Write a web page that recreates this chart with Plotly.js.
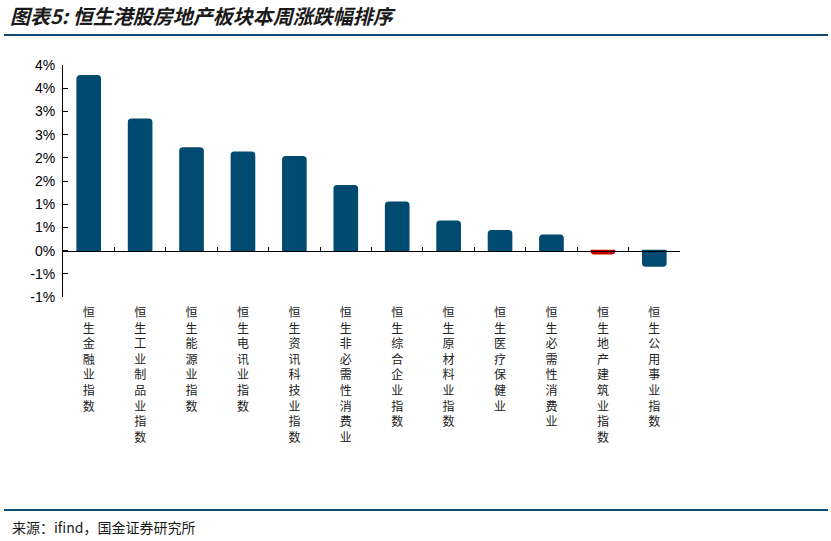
<!DOCTYPE html>
<html>
<head>
<meta charset="utf-8">
<script src="https://cdn.plot.ly/plotly-3.0.1.min.js"></script>
<style>
  html, body { margin: 0; padding: 0; background: #ffffff; }
  #chart { width: 831px; height: 541px; }
</style>
</head>
<body>
<div id="chart"></div>
<script>
// ---- data ----
const titleText = '图表5: 恒生港股房地产板块本周涨跌幅排序';
const sourceText = '来源：ifind，国金证券研究所';
const categories = [
  '恒生金融业指数', '恒生工业制品业指数', '恒生能源业指数', '恒生电讯业指数',
  '恒生资讯科技业指数', '恒生非必需性消费业', '恒生综合企业指数', '恒生原材料业指数',
  '恒生医疗保健业', '恒生必需性消费业', '恒生地产建筑业指数', '恒生公用事业指数'
];
const values = [3.77, 2.83, 2.21, 2.12, 2.02, 1.40, 1.04, 0.63, 0.43, 0.33, -0.07, -0.33];
const highlightCategory = '恒生地产建筑业指数';
const yTickVals = [-1, -0.5, 0, 0.5, 1, 1.5, 2, 2.5, 3, 3.5, 4];
const yTickText = ['-1%', '-1%', '0%', '1%', '1%', '2%', '2%', '3%', '3%', '4%', '4%'];

// ---- styles ----
const BLUE = '#004a70';
const RED = '#c00000';
const barColors = categories.map(c => c === highlightCategory ? RED : BLUE);
const verticalLabels = categories.map(c => c.split('').join('<br>'));

const trace = {
  type: 'bar',
  x: categories,
  y: values,
  width: 0.45,
  marker: {
    color: barColors,
    cornerradius: 3,
    line: { color: barColors, width: 1.5 }
  },
  hoverinfo: 'x+y'
};

const W = 831, H = 541;
const L = 63, R = 680, T = 65, B = 297;
const px = x => (x - L) / (R - L);
const py = y => (B - y) / (B - T);

const layout = {
  width: W, height: H,
  margin: { l: L, r: W - R, t: T, b: H - B, pad: 0 },
  paper_bgcolor: '#ffffff',
  plot_bgcolor: '#ffffff',
  showlegend: false,
  bargap: 0.55,
  title: {
    text: '<b>' + titleText + '</b>',
    x: 10 / W, xanchor: 'left', xref: 'container',
    y: 1 - 17 / H, yanchor: 'middle', yref: 'container',
    font: { family: '"Noto Sans CJK SC", sans-serif', size: 20, color: '#1a1a1a', style: 'italic' }
  },
  xaxis: {
    type: 'category',
    anchor: 'free',
    position: 0.2,
    range: [-0.5, categories.length - 0.5],
    tickmode: 'array',
    tickvals: categories,
    ticktext: verticalLabels,
    tickson: 'boundaries',
    ticks: 'inside',
    ticklen: 4,
    tickcolor: '#000000',
    tickwidth: 1,
    showline: true,
    linecolor: '#000000',
    linewidth: 1,
    showgrid: false,
    zeroline: false,
    tickangle: 0,
    ticklabelstandoff: 51,
    tickfont: { family: '"Noto Sans CJK SC", sans-serif', size: 12, color: '#222222' }
  },
  yaxis: {
    range: [-1, 4],
    tickmode: 'array',
    tickvals: yTickVals,
    ticktext: yTickText,
    ticks: 'inside',
    ticklen: 5,
    tickcolor: '#000000',
    showline: true,
    linecolor: '#000000',
    linewidth: 1,
    showgrid: false,
    zeroline: false,
    ticklabelstandoff: 4,
    tickfont: { family: '"Liberation Sans", Arial, sans-serif', size: 14, color: '#000000' }
  },
  shapes: [
    { type: 'line', xref: 'paper', yref: 'paper', x0: px(4), x1: px(828), y0: py(35), y1: py(35),
      line: { color: '#0f4c75', width: 2 } },
    { type: 'line', xref: 'paper', yref: 'paper', x0: px(4), x1: px(828), y0: py(510), y1: py(510),
      line: { color: '#0f4c75', width: 2 } }
  ],
  annotations: [
    { xref: 'paper', yref: 'paper', x: px(10), y: py(527), xanchor: 'left', yanchor: 'middle',
      text: sourceText, showarrow: false,
      font: { family: '"Noto Sans CJK SC", sans-serif', size: 14, color: '#1a1a1a' } }
  ]
};

Plotly.newPlot('chart', [trace], layout, { displayModeBar: false, staticPlot: true });
</script>
</body>
</html>
